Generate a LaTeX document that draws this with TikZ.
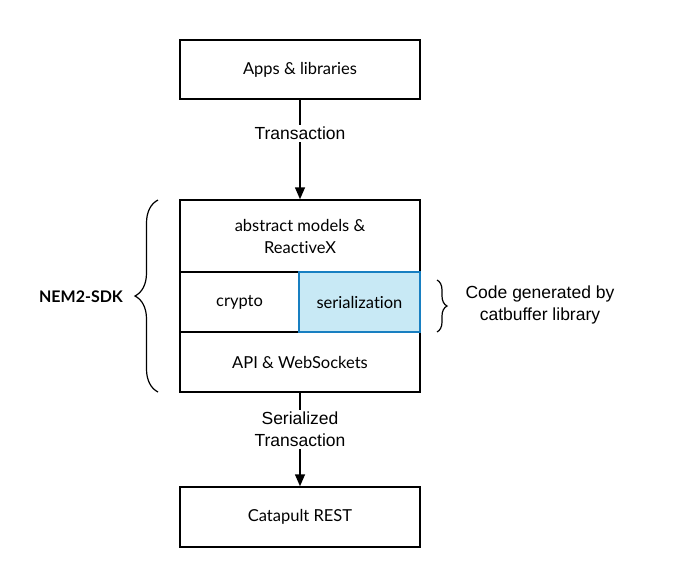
\documentclass[tikz,border=0pt]{standalone}
\usepackage{fontspec}
\setmainfont{Lato}[Ligatures=NoCommon]
\newfontfamily\labelfont{Liberation Sans}
\usetikzlibrary{arrows.meta,decorations.pathreplacing}
\definecolor{serialfill}{RGB}{200,233,245}
\definecolor{serialdraw}{RGB}{24,127,193}

\begin{document}
\begin{tikzpicture}[x=1pt,y=-1pt,
    layer/.style={draw,line width=1.5pt,minimum width=240pt,minimum height=60pt,
        inner sep=0pt,align=center,font=\fontsize{16.5}{22}\selectfont},
    flow/.style={line width=1.5pt,-{Triangle[length=12pt,width=10pt]}},
    flowlabel/.style={fill=white,align=center,inner sep=2pt,
        font=\labelfont\fontsize{17.5}{22}\selectfont},
    sdkbrace/.style={decorate,line width=1.2pt,decoration={brace,amplitude=#1}}]
    \useasboundingbox (0,0) rectangle (700,587);

    % Top and bottom boxes
    \node[layer,minimum height=59pt] (apps) at (300,69.5) {Apps \& libraries};
    \node[layer] (catapult) at (300,517) {Catapult REST};

    % The SDK stack
    \node[layer,minimum height=72pt] (models) at (300,236) {abstract models \&\\ReactiveX};
    \node[layer,minimum width=119pt] (crypto) at (239.5,302) {crypto};
    \node[layer] (api) at (300,362) {API \& WebSockets};
    \node[layer,minimum width=121pt,fill=serialfill,draw=serialdraw] (serial) at (359.5,302) {serialization};

    % Data flow
    \draw[flow] (apps) -- node[flowlabel,pos=0.34] (tx) {Transaction} (models);
    \draw[flow] (api) -- node[flowlabel,pos=0.39] (stx) {Serialized\\Transaction} (catapult);

    % Braces and their labels
    \draw[sdkbrace=23pt] (158,392) -- (158,200);
    \node[font=\bfseries\fontsize{16}{18}\selectfont] (sdk) at (81,297) {NEM2-SDK};
    \draw[sdkbrace=10pt] (437,280) -- (437,332);
    \node[flowlabel,fill=none] (gen) at (540,305) {Code generated by\\catbuffer library};
\end{tikzpicture}
\end{document}
